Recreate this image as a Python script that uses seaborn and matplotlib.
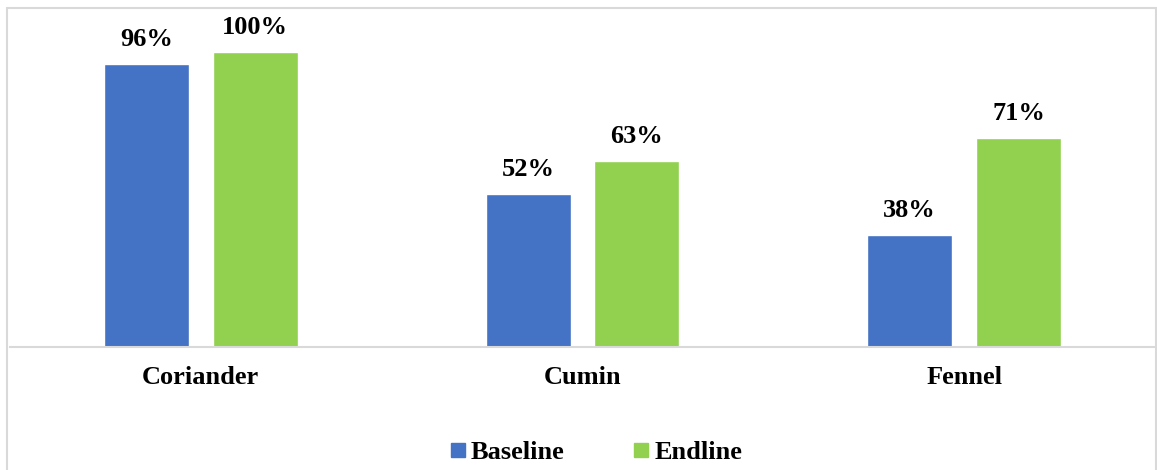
import pandas as pd
import matplotlib.pyplot as plt
import seaborn as sns
from matplotlib.lines import Line2D
from matplotlib.patches import Rectangle

# Data
crops = ["Coriander", "Cumin", "Fennel"]
baseline = [96, 52, 38]
endline = [100, 63, 71]
series = ["Baseline", "Endline"]
colors = ["#4472C4", "#92D050"]

df = pd.DataFrame({
    "Crop": crops * 2,
    "Share": baseline + endline,
    "Survey": ["Baseline"] * 3 + ["Endline"] * 3,
})

sns.set_style("white")
plt.rcParams["font.family"] = ["Liberation Serif", "DejaVu Serif"]
plt.rcParams["font.weight"] = "bold"
plt.rcParams["text.color"] = "black"
plt.rcParams["xtick.color"] = "black"

fig = plt.figure(figsize=(11.57, 4.70), dpi=100)
ax = fig.add_axes([10 / 1157, 123 / 470, 1145 / 1157, 339 / 470])

sns.barplot(data=df, x="Crop", y="Share", hue="Survey", hue_order=series,
            palette=colors, width=0.571, gap=0.22, saturation=1,
            legend=False, ax=ax)

for cont in ax.containers:
    ax.bar_label(cont, labels=[f"{v:.0f}%" for v in cont.datavalues],
                 padding=9.5, fontsize=19, fontweight="bold", color="black")

ax.set_ylim(0, 115)
ax.set_xlim(-0.5, 2.5)
ax.set_xlabel("")
ax.set_ylabel("")
ax.set_yticks([])
ax.tick_params(axis="x", length=0, pad=14, labelsize=19, labelcolor="black")
for lbl in ax.get_xticklabels():
    lbl.set_fontweight("bold")
for s in ["top", "left", "right"]:
    ax.spines[s].set_visible(False)
ax.spines["bottom"].set_color("#d9d9d9")
ax.spines["bottom"].set_linewidth(1.5)

# Legend with square markers
handles = [Line2D([], [], marker="s", linestyle="", markersize=9.5,
                  markerfacecolor=c, markeredgecolor=c) for c in colors]
leg = fig.legend(handles, series, loc="center", bbox_to_anchor=(596 / 1157, 1 - 452 / 470),
                 ncol=2, frameon=False, handlelength=0.6, handletextpad=0.2,
                 columnspacing=2.6, prop={"size": 19, "weight": "bold"})
for t in leg.get_texts():
    t.set_color("black")

# Chart border
fig.patches.append(Rectangle((7 / 1157, -0.05), 1149 / 1157, 1.05 - 8 / 470,
                             transform=fig.transFigure, fill=False,
                             edgecolor="#d9d9d9", linewidth=1.5))

fig.savefig("out.png", dpi=100)
